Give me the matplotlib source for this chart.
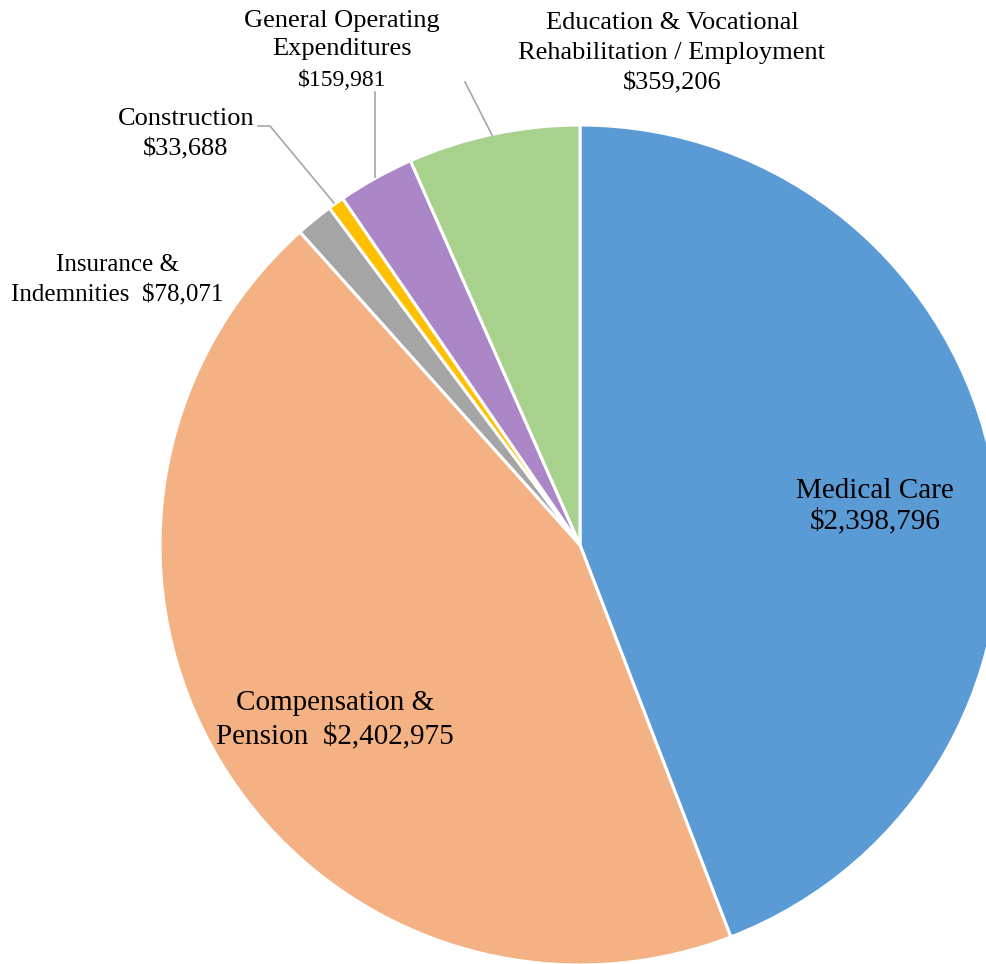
import matplotlib.pyplot as plt

# Spending by category
categories = ['Medical Care', 'Compensation & Pension', 'Insurance & Indemnities',
              'Construction', 'General Operating Expenditures',
              'Education & Vocational Rehabilitation / Employment']
values = [2398796, 2402975, 78071, 33688, 159981, 359206]
colors = ['#5B9BD5', '#F4B183', '#A5A5A5', '#FFC000', '#AB87C7', '#A9D18E']

W, H = 987, 964
CX, CY, R = 580, 545, 420   # pie centre / radius in pixels (from top)


def main():
    fig = plt.figure(figsize=(W / 100, H / 100), dpi=100)
    ax = fig.add_axes([0, 0, 1, 1])
    plt.rcParams['font.family'] = ['Liberation Serif', 'DejaVu Serif']

    ax.pie(values, colors=colors, startangle=90, counterclock=False,
           center=(CX, H - CY), radius=R,
           wedgeprops=dict(edgecolor='white', linewidth=2.2))
    ax.set_xlim(0, W)
    ax.set_ylim(0, H)
    ax.set_aspect('equal')
    ax.axis('off')

    def txt(x, y, s, size, ls=1.2):
        ax.text(x, H - y, s, ha='center', va='center', fontsize=size,
                color='black', linespacing=ls)

    def fmt(v):
        return f'${v:,}'

    txt(875, 506, 'Medical Care\n' + fmt(values[0]), 21, 1.21)
    txt(335, 720, 'Compensation &\nPension  ' + fmt(values[1]), 21, 1.31)
    txt(117, 280, 'Insurance &\nIndemnities  ' + fmt(values[2]), 18, 1.49)
    txt(186, 134, 'Construction\n' + fmt(values[3]), 19, 1.5)
    txt(342, 35, 'General Operating\nExpenditures', 19, 1.4)
    txt(342, 80, fmt(values[4]), 17)
    txt(672, 53, 'Education & Vocational\nRehabilitation / Employment\n' + fmt(values[5]), 19, 1.47)

    # leader lines
    lc = '#A6A6A6'
    ax.plot([258, 270, 334], [H - 126, H - 126, H - 203], color=lc, lw=1.2)
    ax.plot([375, 375], [H - 92, H - 177], color=lc, lw=1.2)
    ax.plot([465, 492], [H - 82, H - 135], color=lc, lw=1.2)

    fig.savefig('out.png', dpi=100)


if __name__ == "__main__":
    main()
